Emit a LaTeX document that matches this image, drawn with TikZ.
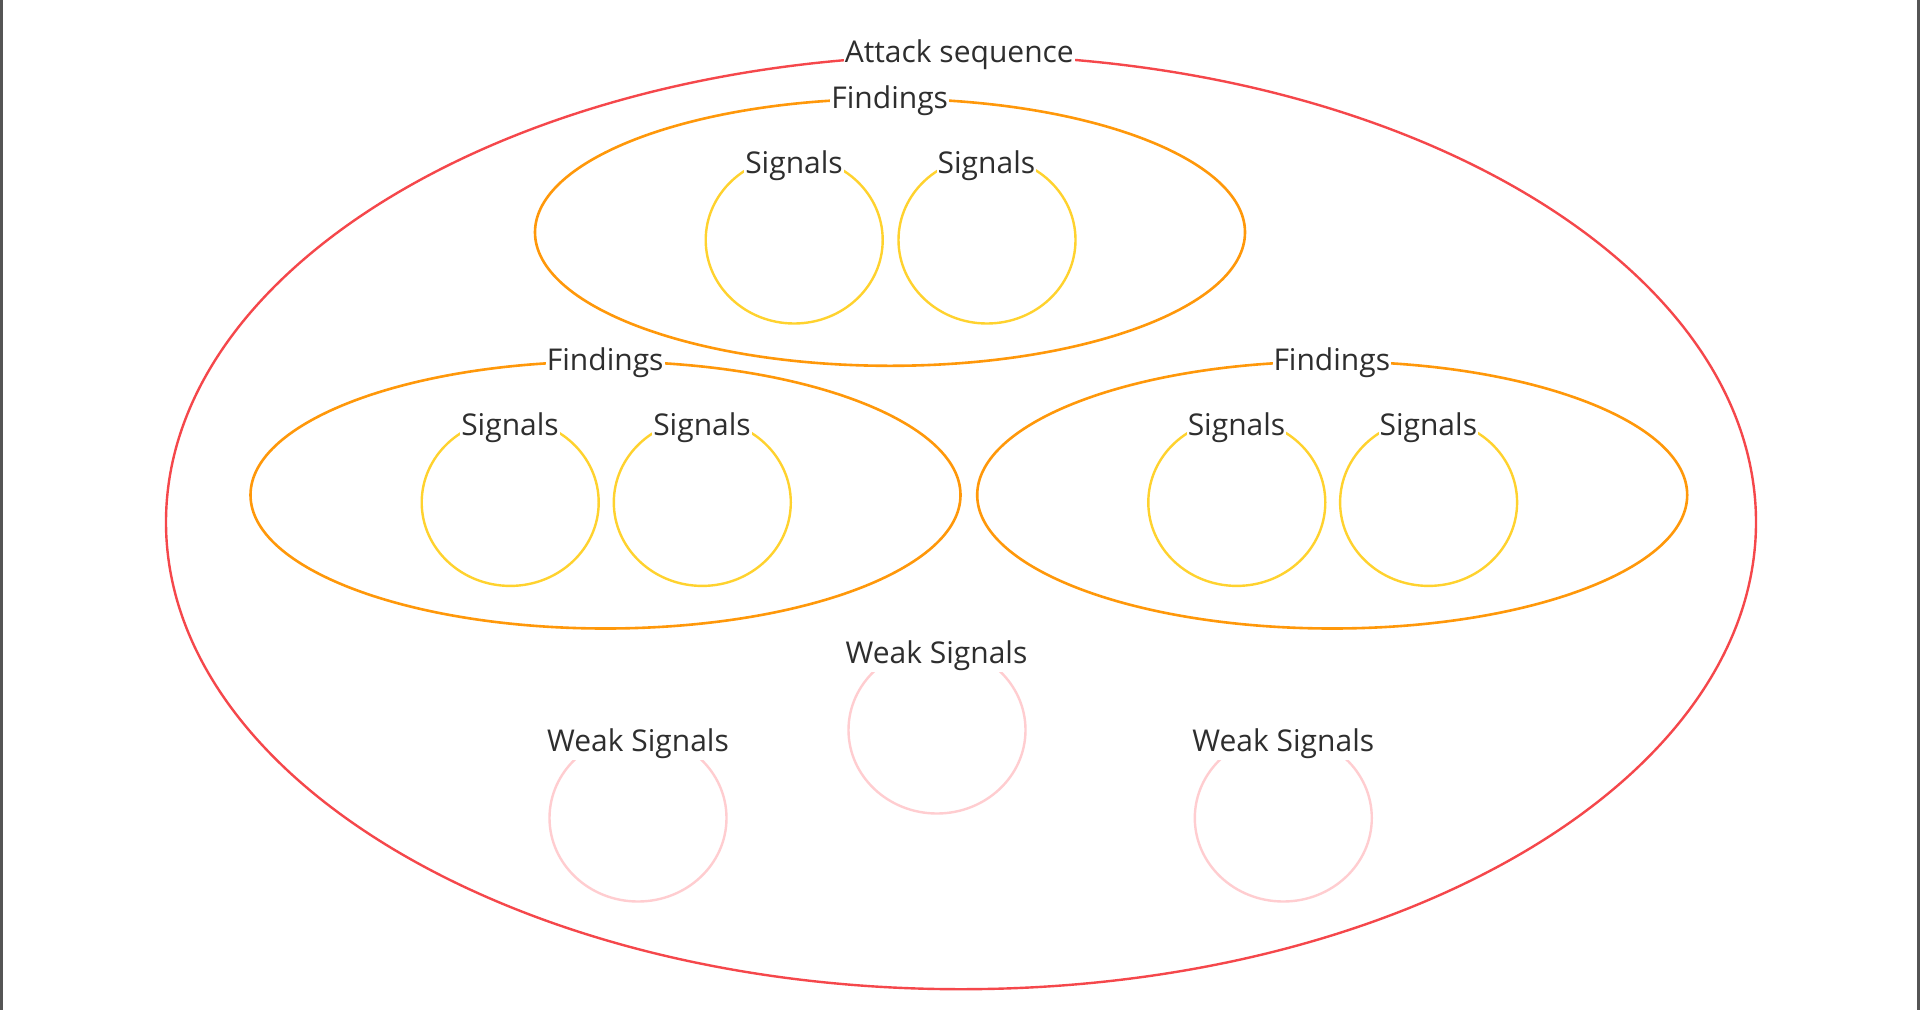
\documentclass[tikz,border=0pt]{standalone}
\usepackage{fontspec}
\setmainfont{Open Sans}
\usetikzlibrary{shapes.geometric}
\definecolor{seqred}{HTML}{F5474B}
\definecolor{findorange}{HTML}{FF980A}
\definecolor{sigyellow}{HTML}{FFD22E}
\definecolor{weakpink}{HTML}{FFCDD0}
\definecolor{txtgray}{HTML}{2E2E2E}
\definecolor{edgegray}{HTML}{555555}
\tikzset{
  ring/.style={ellipse, draw, inner sep=0pt, outer sep=0pt},
  seqring/.style={ring, draw=seqred, line width=2.4pt, minimum width=1590pt, minimum height=934pt},
  findring/.style={ring, draw=findorange, line width=2.6pt, minimum width=710pt, minimum height=267pt},
  sigring/.style={ring, draw=sigyellow, line width=2.4pt, minimum width=177pt, minimum height=167pt},
  weakring/.style={ring, draw=weakpink, line width=2.4pt, minimum width=177pt, minimum height=167pt},
  lbl/.style={anchor=base, fill=white, text=txtgray, inner xsep=1pt, inner ysep=1.5pt,
    font=\fontsize{30}{35}\selectfont}
}
\begin{document}
\begin{tikzpicture}[x=1pt, y=-1pt]
\useasboundingbox (0,0) rectangle (1920,1010);
\fill[white] (0,0) rectangle (1920,1010);
\fill[edgegray] (0,0) rectangle (2.7,1010);
\fill[edgegray] (1917.3,0) rectangle (1920,1010);

% outer attack sequence
\node[seqring] (seq) at (961,522.2) {};
\node[lbl] (seqlbl) at (959.3,62.7) {Attack sequence};

% findings
\node[findring] (f1) at (890,232.3) {};
\node[findring] (f2) at (605.5,495) {};
\node[findring] (f3) at (1332.2,495) {};
\node[lbl] (f1lbl) at (889.7,108.3) {Findings};
\node[lbl] (f2lbl) at (605.2,370.7) {Findings};
\node[lbl] (f3lbl) at (1331.8,370.7) {Findings};

% signals
\node[sigring] (s1) at (794.2,240) {};
\node[sigring] (s2) at (987,240) {};
\node[sigring] (s3) at (510.2,502.4) {};
\node[sigring] (s4) at (702.3,502.4) {};
\node[sigring] (s5) at (1236.8,502.4) {};
\node[sigring] (s6) at (1428.6,502.4) {};
\node[lbl] (s1lbl) at (794,173.3) {Signals};
\node[lbl] (s2lbl) at (986.4,173.3) {Signals};
\node[lbl] (s3lbl) at (510,435.6) {Signals};
\node[lbl] (s4lbl) at (702,435.6) {Signals};
\node[lbl] (s5lbl) at (1236.5,435.6) {Signals};
\node[lbl] (s6lbl) at (1428.3,435.6) {Signals};

% weak signals
\node[weakring] (w1) at (937,730) {};
\node[weakring] (w2) at (638,818) {};
\node[weakring] (w3) at (1283.3,818) {};
\node[lbl] (w1lbl) at (936.5,663.3) {Weak Signals};
\node[lbl] (w2lbl) at (638,751.3) {Weak Signals};
\node[lbl] (w3lbl) at (1283.3,751.3) {Weak Signals};
\end{tikzpicture}
\end{document}
